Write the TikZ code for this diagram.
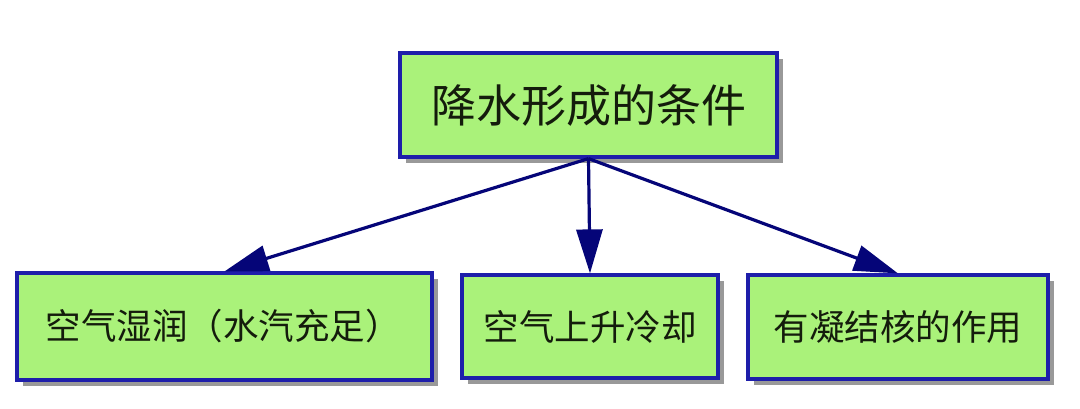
\documentclass[tikz,border=0pt]{standalone}
\usepackage{fontspec}
\newfontfamily\cjk{Noto Sans CJK SC}
\usetikzlibrary{arrows.meta,shadows}
\definecolor{boxfill}{RGB}{170,242,122}
\definecolor{boxline}{RGB}{30,30,170}
\definecolor{arrowc}{RGB}{5,5,120}
\definecolor{txt}{RGB}{20,28,12}
\begin{document}
\begin{tikzpicture}[x=1pt,y=-1pt,
  cbox/.style={draw=boxline, line width=3.2pt, fill=boxfill, inner sep=0pt,
    text=txt, font=\cjk\fontsize{35.5}{40}\selectfont,
    drop shadow={shadow xshift=6pt, shadow yshift=-6pt, fill=black!40, opacity=1}},
  conn/.style={draw=arrowc, line width=3.2pt, -{Triangle[length=44pt,width=26pt]}}]
\useasboundingbox (0,0) rectangle (1080,408);
\node[cbox, minimum width=377pt, minimum height=104pt, font=\cjk\fontsize{45}{50}\selectfont] (top) at (588.5,105) {降水形成的条件};
\node[cbox, minimum width=415pt, minimum height=107pt] (left) at (224.5,326.5) {\hspace*{-2pt}空气湿润（水汽充足）};
\node[cbox, minimum width=256pt, minimum height=103pt] (mid) at (590,326.5) {空气上升冷却};
\node[cbox, minimum width=300pt, minimum height=104pt] (right) at (898,327) {有凝结核的作用};
\draw[conn] (top.south) -- (left.north);
\draw[conn] (top.south) -- (mid.north);
\draw[conn] (top.south) -- (right.north);
\end{tikzpicture}
\end{document}
